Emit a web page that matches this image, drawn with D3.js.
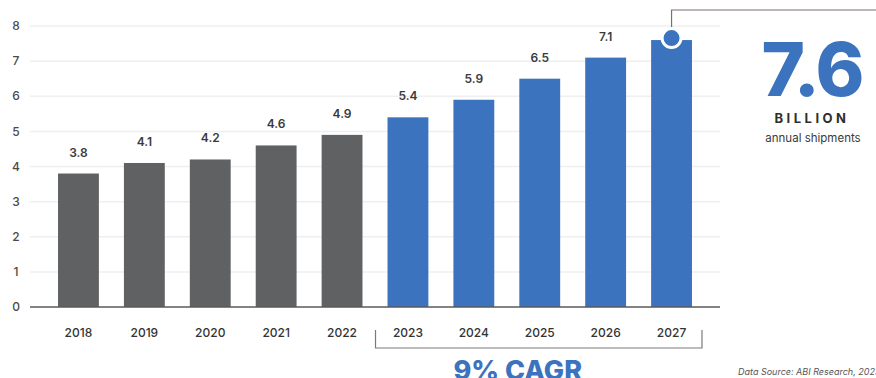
<!DOCTYPE html>
<html>
<head>
<meta charset="utf-8">
<script src="https://cdn.jsdelivr.net/npm/d3@7"></script>
<style>
  body { margin: 0; background: #fff; }
  svg { display: block; font-family: Inter, "Noto Sans", sans-serif; }
</style>
</head>
<body>
<div id="chart"></div>
<script>
var years = ["2018", "2019", "2020", "2021", "2022", "2023", "2024", "2025", "2026", "2027"];
var shipments = [3.8, 4.1, 4.2, 4.6, 4.9, 5.4, 5.9, 6.5, 7.1, 7.6];
var forecastYears = ["2023", "2024", "2025", "2026", "2027"];
var yTicks = [0, 1, 2, 3, 4, 5, 6, 7, 8];

var W = 876, H = 378;
var grey = "#606163", blue = "#3b73be";

var svg = d3.select("#chart").append("svg")
    .attr("width", W).attr("height", H);

var x = d3.scaleBand()
    .domain(years)
    .range([45.5, 704.5])
    .paddingInner(0.38)
    .paddingOuter(0.19);

var y = d3.scaleLinear()
    .domain([0, 8])
    .range([307, 26]);

// gridlines
svg.selectAll(".grid")
    .data(yTicks.filter(function(d) { return d > 0; }))
    .enter().append("line")
    .attr("x1", 30).attr("x2", 720)
    .attr("y1", function(d) { return y(d); })
    .attr("y2", function(d) { return y(d); })
    .attr("stroke", "#efefef")
    .attr("stroke-width", 1.5);

// y tick labels
svg.selectAll(".ytick")
    .data(yTicks)
    .enter().append("text")
    .attr("x", 16)
    .attr("y", function(d) { return y(d); })
    .attr("dy", "0.35em")
    .attr("text-anchor", "middle")
    .style("font-size", "12px")
    .style("font-weight", "500")
    .style("fill", "#4a4a4a")
    .text(function(d) { return d; });

var data = years.map(function(yr, i) { return { year: yr, value: shipments[i] }; });

svg.selectAll(".bar")
    .data(data)
    .enter().append("rect")
    .attr("x", function(d) { return x(d.year); })
    .attr("width", x.bandwidth())
    .attr("y", function(d) { return y(d.value); })
    .attr("height", function(d) { return y(0) - y(d.value); })
    .attr("fill", function(d) { return forecastYears.indexOf(d.year) >= 0 ? blue : grey; });

// value labels (last bar uses the callout)
svg.selectAll(".val")
    .data(data.slice(0, data.length - 1))
    .enter().append("text")
    .attr("x", function(d) { return x(d.year) + x.bandwidth() / 2; })
    .attr("y", function(d) { return y(d.value) - 17; })
    .attr("text-anchor", "middle")
    .style("font-size", "12px")
    .style("font-weight", "600")
    .style("fill", "#3a3a3a")
    .text(function(d) { return d.value; });

// baseline
svg.append("line")
    .attr("x1", 30).attr("x2", 720)
    .attr("y1", y(0)).attr("y2", y(0))
    .attr("stroke", "#5a5a5a")
    .attr("stroke-width", 1.5);

// x labels
svg.selectAll(".xlab")
    .data(years)
    .enter().append("text")
    .attr("x", function(d) { return x(d) + x.bandwidth() / 2; })
    .attr("y", 337)
    .attr("text-anchor", "middle")
    .style("font-size", "12px")
    .style("font-weight", "500")
    .style("fill", "#333")
    .text(function(d) { return d; });

// callout on last bar
var last = data[data.length - 1];
var cx = x(last.year) + x.bandwidth() / 2;
var cy = y(last.value) - 2;
svg.append("path")
    .attr("d", "M" + cx + "," + (cy - 9) + "V10H" + W)
    .attr("fill", "none")
    .attr("stroke", "#7a716c")
    .attr("stroke-width", 1.2);
svg.append("circle")
    .attr("cx", cx).attr("cy", cy).attr("r", 9.5)
    .attr("fill", blue)
    .attr("stroke", "#fff")
    .attr("stroke-width", 3);

svg.append("text")
    .attr("x", 812).attr("y", 96)
    .attr("text-anchor", "middle")
    .style("font-size", "74px")
    .style("font-weight", "800")
    .style("fill", blue)
    .style("letter-spacing", "-2px")
    .text(last.value);
svg.append("text")
    .attr("x", 812).attr("y", 123)
    .attr("text-anchor", "middle")
    .style("font-size", "13px")
    .style("font-weight", "700")
    .style("letter-spacing", "3.5px")
    .style("fill", "#2e2e2e")
    .text("BILLION");
svg.append("text")
    .attr("x", 813).attr("y", 142)
    .attr("text-anchor", "middle")
    .style("font-size", "11.5px")
    .style("fill", "#3a3a3a")
    .text("annual shipments");

// CAGR bracket
var bx0 = x(forecastYears[0]) - 12, bx1 = x(forecastYears[forecastYears.length - 1]) + x.bandwidth() + 10;
svg.append("path")
    .attr("d", "M" + bx0 + ",330V348H" + bx1 + "V330")
    .attr("fill", "none")
    .attr("stroke", "#7a7a7a")
    .attr("stroke-width", 1.2);
svg.append("text")
    .attr("x", (bx0 + bx1) / 2 - 21).attr("y", 380)
    .attr("text-anchor", "middle")
    .style("font-size", "27px")
    .style("font-weight", "800")
    .style("fill", blue)
    .text("9% CAGR");

svg.append("text")
    .attr("x", 738).attr("y", 375)
    .style("font-size", "9px")
    .style("font-style", "italic")
    .style("fill", "#555")
    .text("Data Source: ABI Research, 2023");
</script>
</body>
</html>
